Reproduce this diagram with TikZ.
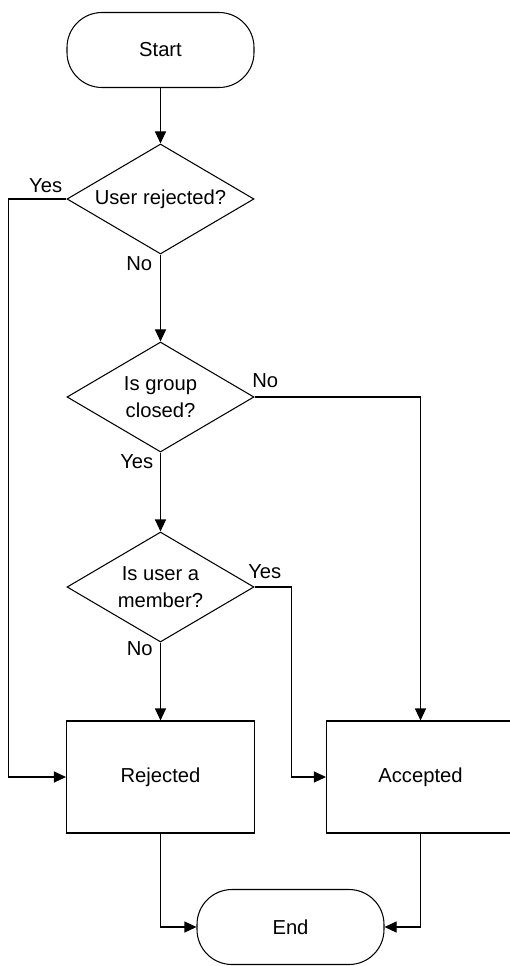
\documentclass[tikz,border=0pt]{standalone}
\usepackage{fontspec}
\setmainfont{Liberation Sans}
\usetikzlibrary{shapes.geometric, arrows.meta}
\tikzstyle{startstop} = [rectangle, rounded corners=0.7cm, minimum width=3.74cm, minimum height=1.5cm, text centered, draw=black]
\tikzstyle{decision} = [diamond, aspect=1.7, inner sep=0pt, minimum width=3.74cm, minimum height=2.2cm, text centered, align=center, draw=black]
\tikzstyle{process} = [rectangle, minimum width=3.76cm, minimum height=2.24cm, text centered, draw=black]
\tikzstyle{lbl} = [inner sep=1pt]
\tikzstyle{arrow} = [->, >={Triangle[length=0.24cm,width=0.22cm]}]

\begin{document}
\begin{tikzpicture}[node distance=3.8cm, line width=0.6pt, font=\fontsize{11.5}{15}\selectfont]
  \useasboundingbox (0,0) rectangle (10.18,-19.32);
  \node (start) [startstop] at (3.21,-1.0) {Start};
  \node (dec1) [decision, below of=start, yshift=0.82cm] {User rejected?};
  \node (dec2) [decision, below of=dec1, yshift=-0.16cm] {Is group\\closed?};
  \node (dec3) [decision, below of=dec2] {Is user a\\member?};
  \node (rej) [process, below of=dec3] {Rejected};
  \node (acc) [process, right of=rej, xshift=1.4cm] {Accepted};
  \node (stop) [startstop, below of=rej, yshift=0.8cm, xshift=2.6cm] {End};

  % branch labels
  \node (yes1) [lbl, anchor=south east] at ([xshift=-0.04cm,yshift=0.08cm]dec1.west) {Yes};
  \node (no1) [lbl, anchor=north east] at ([xshift=-0.12cm]dec1.south) {No};
  \node (no2) [lbl, anchor=south west] at ([xshift=-0.09cm,yshift=0.14cm]dec2.east) {No};
  \node (yes2) [lbl, anchor=north east] at ([xshift=-0.1cm]dec2.south) {Yes};
  \node (yes3) [lbl, anchor=south west] at ([xshift=-0.17cm,yshift=0.12cm]dec3.east) {Yes};
  \node (no3) [lbl, anchor=north east] at ([xshift=-0.11cm,yshift=0.06cm]dec3.south) {No};

  \draw [arrow] (start) -- (dec1);
  \draw [arrow] (dec1.west) -- ++(-1.16cm,0) |- (rej.west);
  \draw [arrow] (dec1) -- (dec2);
  \draw [arrow] (dec2.east) -| (acc.north);
  \draw [arrow] (dec2) -- (dec3);
  \draw [arrow] (dec3.east) -- ++(0.74cm,0) |- (acc.west);
  \draw [arrow] (dec3) -- (rej);
  \draw [arrow] (rej.south) |- (stop.west);
  \draw [arrow] (acc.south) |- (stop.east);
\end{tikzpicture}
\end{document}
